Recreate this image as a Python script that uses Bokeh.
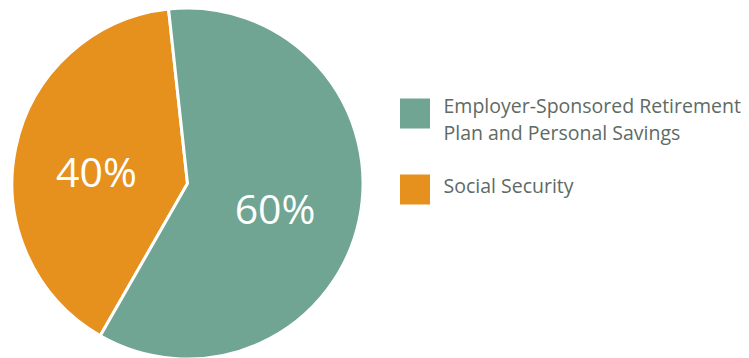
import math
from bokeh.plotting import figure
from bokeh.models import ColumnDataSource, Range1d
from bokeh.core.properties import value
from bokeh.embed import file_html
from bokeh.resources import INLINE

categories = ["Employer-Sponsored Retirement\nPlan and Personal Savings", "Social Security"]
values = [60, 40]
labels = ["60%", "40%"]
colors = ["#70a593", "#e6901d"]

W, H = 749, 358
cx, cy, R = 187, H - 183, 175.5
start_deg = 96.2  # where Social Security begins (counter-clockwise: SS then Employer)
FONT = "Open Sans"

p = figure(width=W, height=H, output_backend="svg", toolbar_location=None,
           x_range=Range1d(0, W), y_range=Range1d(0, H), min_border=0)
p.axis.visible = False
p.grid.visible = False
p.outline_line_color = None
p.background_fill_color = "white"

total = sum(values)
order = [1, 0]
starts, ends, cols, mids = [], [], [], {}
a = math.radians(start_deg)
for i in order:
    span = 2 * math.pi * values[i] / total
    starts.append(a)
    ends.append(a + span)
    cols.append(colors[i])
    mids[i] = a + span / 2
    a += span

src = ColumnDataSource(dict(x=[cx] * 2, y=[cy] * 2, s=starts, e=ends, c=cols))
p.wedge(x="x", y="y", radius=R, start_angle="s", end_angle="e", fill_color="c",
        line_color="white", line_width=3, source=src)

# percentage labels
lab_r = 0.522
lab_shift = [-0.093, 0.091]
lx, ly = [], []
for i in range(2):
    ang = mids[i] + lab_shift[i]
    lx.append(cx + R * lab_r * math.cos(ang))
    ly.append(cy + R * lab_r * math.sin(ang) + 2)
p.text(x=lx, y=ly, text=labels, text_color="white", text_font=value(FONT),
       text_font_size="41px", text_align="center", text_baseline="alphabetic")

# legend
leg_y = [H - 113, H - 189]
p.rect(x=[414.5] * 2, y=leg_y, width=30, height=30, fill_color=colors, line_color=None)
tx, ty, tt = [], [], []
base = [H - 105, H - 185]
for i, cat in enumerate(categories):
    for j, line in enumerate(cat.split("\n")):
        tx.append(443)
        ty.append(base[i] - 27 * j)
        tt.append(line)
p.text(x=tx, y=ty, text=tt, text_color="#5d6b64", text_font=value(FONT),
       text_font_size="19.5px", text_align="left", text_baseline="alphabetic")

open("out.html", "w").write(file_html(p, INLINE))
